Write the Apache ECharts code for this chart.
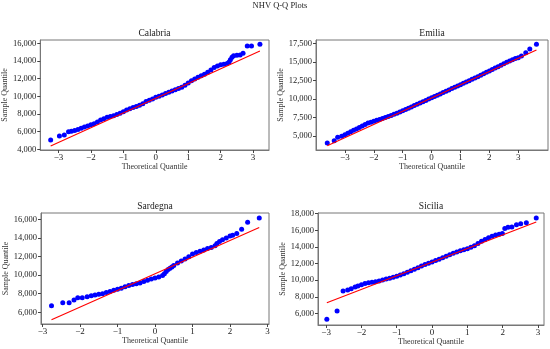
<!DOCTYPE html>
<html><head><meta charset="utf-8">
<script src="https://cdn.jsdelivr.net/npm/echarts@6/dist/echarts.min.js"></script>
<style>html,body{margin:0;padding:0;background:#fff}#c{width:550px;height:349px}</style>
</head><body><div id="c"></div>
<script>
// ---- data ----
const regions = ['Calabria', 'Emilia', 'Sardegna', 'Sicilia'];

const calabriaX = [-3.24,-2.97,-2.82,-2.69,-2.6,-2.5,-2.4,-2.3,-2.2,-2.1,-2.0,-1.9,-1.8,-1.7,-1.6,-1.5,-1.4,-1.3,-1.2,-1.1,-1.0,-0.9,-0.8,-0.7,-0.6,-0.5,-0.4,-0.3,-0.2,-0.1,0,0.1,0.2,0.3,0.4,0.5,0.6,0.7,0.8,0.9,1.0,1.1,1.2,1.3,1.4,1.5,1.6,1.7,1.8,1.9,2.0,2.1,2.2,2.26,2.3,2.35,2.4,2.5,2.6,2.69,2.82,2.95,3.21];
const calabriaY = [5060,5510,5620,6000,6050,6120,6250,6380,6520,6640,6780,6900,7080,7320,7450,7620,7700,7810,7950,8080,8250,8450,8580,8720,8850,8980,9150,9400,9550,9700,9880,10000,10150,10320,10450,10600,10740,10880,11020,11250,11500,11750,11950,12150,12330,12500,12720,12980,13250,13420,13560,13620,13720,13880,14150,14420,14580,14650,14680,14870,15690,15690,15880];
const calabriaLine = [[-3.24, 4377], [3.21, 15132]];

const emiliaX = [-3.61,-3.37,-3.25,-3.11,-3.0,-2.9,-2.8,-2.7,-2.6,-2.5,-2.4,-2.3,-2.2,-2.1,-2.0,-1.9,-1.8,-1.7,-1.6,-1.5,-1.4,-1.3,-1.2,-1.1,-1.0,-0.9,-0.8,-0.7,-0.6,-0.5,-0.4,-0.3,-0.2,-0.1,0,0.1,0.2,0.3,0.4,0.5,0.6,0.7,0.8,0.9,1.0,1.1,1.2,1.3,1.4,1.5,1.6,1.7,1.8,1.9,2.0,2.1,2.2,2.3,2.4,2.5,2.6,2.7,2.8,2.9,3.0,3.11,3.26,3.40,3.63];
const emiliaY = [4060,4373,4820,4955,5180,5360,5560,5760,5960,6160,6360,6560,6740,6870,6990,7110,7240,7370,7500,7640,7780,7930,8080,8240,8400,8570,8750,8920,9100,9280,9450,9630,9800,9980,10150,10330,10500,10680,10860,11030,11210,11390,11570,11740,11920,12100,12280,12460,12640,12820,13000,13190,13380,13580,13780,13970,14160,14350,14540,14740,14930,15110,15290,15440,15560,15790,16240,16730,17370];
const emiliaLine = [[-3.61, 3700], [3.63, 16604]];

const sardegnaX = [-2.76,-2.46,-2.29,-2.16,-2.06,-1.94,-1.81,-1.7,-1.6,-1.5,-1.4,-1.3,-1.2,-1.1,-1.0,-0.9,-0.8,-0.7,-0.6,-0.5,-0.4,-0.3,-0.2,-0.1,0,0.1,0.2,0.25,0.3,0.35,0.4,0.45,0.5,0.6,0.7,0.8,0.9,1.0,1.1,1.2,1.3,1.4,1.5,1.6,1.65,1.72,1.8,1.9,2.0,2.07,2.18,2.31,2.47,2.78];
const sardegnaY = [6714,7036,7036,7320,7570,7570,7680,7780,7870,7940,8000,8120,8230,8360,8480,8600,8750,8880,8990,9080,9150,9300,9440,9570,9680,9810,9960,10150,10400,10600,10750,10880,11030,11300,11520,11730,11980,12280,12430,12560,12700,12850,12980,13150,13400,13620,13800,14000,14210,14290,14460,14930,15680,16140];
const sardegnaLine = [[-2.76, 5214], [2.78, 15107]];

const siciliaX = [-2.98,-2.69,-2.52,-2.39,-2.29,-2.18,-2.1,-2.0,-1.9,-1.8,-1.7,-1.6,-1.5,-1.4,-1.3,-1.2,-1.1,-1.0,-0.9,-0.8,-0.7,-0.6,-0.5,-0.4,-0.3,-0.2,-0.1,0,0.1,0.2,0.3,0.4,0.5,0.6,0.7,0.8,0.9,1.0,1.1,1.2,1.3,1.4,1.5,1.6,1.7,1.8,1.9,1.99,2.06,2.15,2.26,2.39,2.51,2.67,2.95];
const siciliaY = [5280,6280,8680,8800,8960,9160,9300,9450,9580,9680,9750,9800,9900,10020,10130,10230,10350,10470,10620,10780,10950,11130,11300,11500,11700,11870,12020,12180,12350,12520,12700,12880,13070,13250,13400,13530,13660,13780,13950,14150,14420,14680,14880,15090,15280,15430,15530,15620,16200,16360,16400,16680,16800,16920,17480];
const siciliaLine = [[-2.98, 7280], [2.95, 17000]];

// tick labels
const xTicks = [[-3,-2,-1,0,1,2,3],[-3,-2,-1,0,1,2,3],[-3,-2,-1,0,1,2,3],[-3,-2,-1,0,1,2,3]];
const yTicks = [
  [4000,6000,8000,10000,12000,14000,16000],
  [5000,7500,10000,12500,15000,17500],
  [6000,8000,10000,12000,14000,16000],
  [6000,8000,10000,12000,14000,16000,18000]
];

// ---- layout / styling ----
const FONT = 'Liberation Serif';
const grids = [
  {left: 40, top: 40, width: 229, height: 110},
  {left: 316, top: 40, width: 232, height: 110},
  {left: 41, top: 213, width: 228, height: 111},
  {left: 318, top: 213, width: 226, height: 112}
];
const xRanges = [[-3.56, 3.49], [-4.0, 4.03], [-3.04, 3.04], [-3.23, 3.17]];
const yRanges = [[3920, 16375], [3113, 17945], [4746, 16675], [4600, 18080]];
const pts = [[calabriaX, calabriaY], [emiliaX, emiliaY], [sardegnaX, sardegnaY], [siciliaX, siciliaY]];
const lines = [calabriaLine, emiliaLine, sardegnaLine, siciliaLine];

const axisColor = '#777';
const fmtX = v => (v < 0 ? '\u2212' : '') + Math.abs(v);
const fmtY = v => Number(v).toLocaleString('en-US');

const option = {
  animation: false,
  backgroundColor: '#fff',
  title: [{text: 'NHV Q-Q Plots', left: 280, top: 1, textAlign: 'center', padding: 0,
           textStyle: {fontFamily: FONT, fontSize: 8.5, fontWeight: 'normal', color: '#222'}}]
    .concat(regions.map((r, i) => ({
      text: r, left: grids[i].left + grids[i].width / 2, top: grids[i].top - 12, textAlign: 'center', padding: 0,
      textStyle: {fontFamily: FONT, fontSize: 9.5, fontWeight: 'normal', color: '#222'}
    }))),
  grid: grids.map(g => Object.assign({show: true, borderColor: axisColor, borderWidth: 1, backgroundColor: 'transparent'}, g)),
  xAxis: grids.map((g, i) => ({
    type: 'value', gridIndex: i, min: xRanges[i][0], max: xRanges[i][1],
    name: 'Theoretical Quantile', nameLocation: 'middle', nameGap: 13,
    nameTextStyle: {fontFamily: FONT, fontSize: 8, color: '#333'},
    splitLine: {show: false},
    axisLine: {show: true, onZero: false, lineStyle: {color: axisColor}},
    axisTick: {show: true, length: 3, lineStyle: {color: '#444'}, customValues: xTicks[i]},
    axisLabel: {fontFamily: FONT, fontSize: 9, color: '#222', margin: 3, formatter: fmtX, customValues: xTicks[i]}
  })),
  yAxis: grids.map((g, i) => ({
    type: 'value', gridIndex: i, min: yRanges[i][0], max: yRanges[i][1],
    name: 'Sample Quantile', nameLocation: 'middle', nameGap: i % 2 === 0 ? 29 : 30, nameRotate: 90,
    nameTextStyle: {fontFamily: FONT, fontSize: 8, color: '#333'},
    splitLine: {show: false},
    axisLine: {show: true, onZero: false, lineStyle: {color: axisColor}},
    axisTick: {show: true, length: 3, lineStyle: {color: '#444'}, customValues: yTicks[i]},
    axisLabel: {fontFamily: FONT, fontSize: 8.5, color: '#222', margin: 4, formatter: fmtY, customValues: yTicks[i]}
  })),
  series: []
};

pts.forEach((p, i) => {
  option.series.push({
    type: 'scatter', xAxisIndex: i, yAxisIndex: i, symbolSize: 5, z: 2,
    itemStyle: {color: '#0000ff', opacity: 1},
    data: p[0].map((x, k) => [x, p[1][k]])
  });
  option.series.push({
    type: 'line', xAxisIndex: i, yAxisIndex: i, symbol: 'none', z: 3,
    lineStyle: {color: '#ff0000', width: 1.1},
    data: lines[i]
  });
});

echarts.init(document.getElementById('c'), null, {renderer: 'canvas'}).setOption(option);
</script>
</body></html>
